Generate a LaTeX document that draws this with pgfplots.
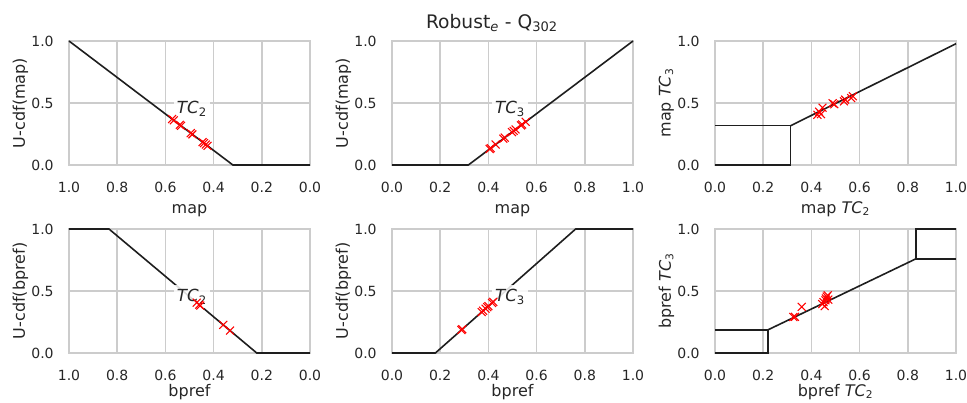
\documentclass[border=0pt]{standalone}
\usepackage{fontspec}
\setmainfont{DejaVu Sans}
\usepackage{pgfplots}
\pgfplotsset{compat=1.18}
\definecolor{spine}{RGB}{204,204,204}
\definecolor{txt}{RGB}{38,38,38}
\definecolor{ln}{RGB}{30,30,30}
\pgfplotsset{
 panel/.style={
  scale only axis, width=180.75pt, height=93pt,
  xmin=0,xmax=1,ymin=0,ymax=1,
  xtick={0,0.2,0.4,0.6,0.8,1}, ytick={0,0.5,1},
  grid=major, major grid style={spine, line width=1.2pt},
  axis line style={spine, line width=2pt},
  major tick length=0pt, tick style={draw=none},
  clip=false,
  tick label style={font=\fontsize{10.5}{12}\selectfont, text=txt},
  xticklabel style={yshift=-9pt},
  yticklabel style={xshift=-8pt},
  /pgf/number format/fixed, /pgf/number format/fixed zerofill,
  /pgf/number format/precision=1, /pgf/number format/assume math mode=true,
  label style={font=\fontsize{12}{14}\selectfont, text=txt},
  xlabel style={at={(axis description cs:0.5,-0.39)}, anchor=base},
  ylabel style={at={(axis description cs:-0.2014,0.5)}, anchor=center},
 },
 bottomrow/.style={xlabel style={at={(axis description cs:0.5,-0.35)}, anchor=base}},
 mk/.style={only marks, mark=x, mark size=4.2pt, red, mark options={line width=0.8pt}},
 cl/.style={ln, line width=1.2pt, no marks},
}
\tikzset{tc/.style={fill=white, fill opacity=0.85, text opacity=1, inner sep=2.5pt, font=\fontsize{12.5}{14}\selectfont, text=txt}}
\begin{document}
\begin{tikzpicture}
\useasboundingbox (0,0) rectangle (725.25pt,302.25pt);
\node[anchor=base, font=\fontsize{14}{16}\selectfont, text=txt] at (369pt,281pt) {Robust\textsubscript{\textit{e}} - Q\textsubscript{302}};

% ---- top left
\begin{axis}[panel, at={(51.75pt,178.5pt)}, anchor=south west, x dir=reverse,
  xlabel={map}, ylabel={U-cdf(map)}]
\addplot[mk] coordinates {(0.572,0.3706) (0.565,0.3603) (0.54,0.3235) (0.535,0.3162) (0.495,0.2574) (0.488,0.2471) (0.446,0.1853) (0.44,0.1765) (0.432,0.1647) (0.425,0.1544)};
\addplot[cl] coordinates {(1,1) (0.32,0) (0,0)};
\node[tc] at (axis cs:0.49,0.455) {\textit{TC}\textsubscript{2}};
\end{axis}

% ---- top middle
\begin{axis}[panel, at={(294pt,178.5pt)}, anchor=south west,
  xlabel={map}, ylabel={U-cdf(map)}]
\addplot[mk] coordinates {(0.405,0.1288) (0.41,0.1362) (0.43,0.1654) (0.462,0.2123) (0.468,0.2211) (0.498,0.2650) (0.505,0.2753) (0.513,0.2870) (0.535,0.3192) (0.54,0.3265) (0.555,0.3485)};
\addplot[cl] coordinates {(0,0) (0.317,0) (1,1)};
\node[tc] at (axis cs:0.49,0.455) {\textit{TC}\textsubscript{3}};
\end{axis}

% ---- top right
\begin{axis}[panel, at={(536.25pt,178.5pt)}, anchor=south west,
  xlabel={map \textit{TC}\textsubscript{2}}, ylabel={map \textit{TC}\textsubscript{3}}]
\addplot[mk] coordinates {(0.425,0.405) (0.432,0.43) (0.44,0.41) (0.446,0.462) (0.488,0.498) (0.495,0.49) (0.535,0.513) (0.54,0.527) (0.565,0.54) (0.572,0.555)};
\addplot[cl] coordinates {(0,0) (0.314,0) (0.314,0.317) (0,0.317)};
\addplot[cl] coordinates {(0.314,0.317) (1,0.978)};
\end{axis}

% ---- bottom left
\begin{axis}[panel, bottomrow, at={(51.75pt,37.5pt)}, anchor=south west, x dir=reverse,
  xlabel={bpref}, ylabel={U-cdf(bpref)}]
\addplot[mk] coordinates {(0.47,0.406) (0.46,0.390) (0.455,0.382) (0.36,0.2268) (0.332,0.1811)};
\addplot[cl] coordinates {(1,1) (0.834,1) (0.221,0) (0,0)};
\node[tc] at (axis cs:0.49,0.455) {\textit{TC}\textsubscript{2}};
\end{axis}

% ---- bottom middle
\begin{axis}[panel, bottomrow, at={(294pt,37.5pt)}, anchor=south west,
  xlabel={bpref}, ylabel={U-cdf(bpref)}]
\addplot[mk] coordinates {(0.288,0.1856) (0.292,0.1924) (0.372,0.3299) (0.378,0.3402) (0.388,0.3574) (0.395,0.3694) (0.40,0.3780) (0.415,0.4038) (0.42,0.4124)};
\addplot[cl] coordinates {(0,0) (0.18,0) (0.762,1) (1,1)};
\node[tc] at (axis cs:0.49,0.455) {\textit{TC}\textsubscript{3}};
\end{axis}

% ---- bottom right
\begin{axis}[panel, bottomrow, at={(536.25pt,37.5pt)}, anchor=south west,
  xlabel={bpref \textit{TC}\textsubscript{2}}, ylabel={bpref \textit{TC}\textsubscript{3}}]
\addplot[mk] coordinates {(0.325,0.29) (0.332,0.292) (0.36,0.372) (0.445,0.395) (0.45,0.41) (0.455,0.378) (0.46,0.44) (0.463,0.455) (0.47,0.43) (0.468,0.465) (0.458,0.425)};
\addplot[cl] coordinates {(0,0) (0.219,0) (0.219,0.186) (0,0.186)};
\addplot[cl] coordinates {(0.219,0.186) (0.834,0.76)};
\addplot[cl] coordinates {(1,0.76) (0.834,0.76) (0.834,1) (1,1)};
\end{axis}
\end{tikzpicture}
\end{document}
